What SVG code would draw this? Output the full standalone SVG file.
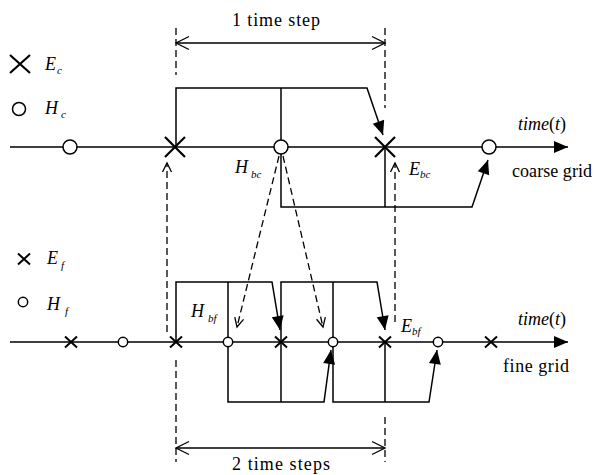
<svg xmlns="http://www.w3.org/2000/svg" width="594" height="475" viewBox="0 0 594 475">
<defs>
<style>
.ln{stroke:#000;stroke-width:1.5;fill:none}
.ds{stroke:#000;stroke-width:1.3;fill:none;stroke-dasharray:7 4}
.cx{stroke:#000;stroke-width:2;fill:none}
.cb{stroke:#000;stroke-width:2.2;fill:none}
.ci{stroke:#000;stroke-width:1.5;fill:#fff}
text{font-family:'Liberation Serif','Times New Roman','DejaVu Serif',serif;font-size:18px;fill:#000}
.i{font-style:italic}
.s{font-size:11px}
</style>
<marker id="fa" markerUnits="userSpaceOnUse" markerWidth="16" markerHeight="14" refX="14" refY="6" orient="auto" overflow="visible">
<path d="M0,0 L14,6 L0,12 z" fill="#000" stroke="none"/>
</marker>
<marker id="oa" markerUnits="userSpaceOnUse" markerWidth="16" markerHeight="16" refX="13" refY="6.5" orient="auto-start-reverse" overflow="visible">
<path d="M0,0 L13,6.5 L0,13" fill="none" stroke="#000" stroke-width="1.3"/>
</marker>
<marker id="oas" markerUnits="userSpaceOnUse" markerWidth="12" markerHeight="12" refX="9" refY="4.5" orient="auto" overflow="visible">
<path d="M0,0 L9,4.5 L0,9" fill="none" stroke="#000" stroke-width="1.3"/>
</marker>
</defs>
<rect width="594" height="475" fill="#fff"/>

<g id="legend">
<path class="cb" d="M10,55 L30,73 M30,55 L10,73"/>
<text class="i" x="45" y="70">E<tspan class="s" dx="1" dy="4">c</tspan></text>
<circle class="ci" cx="19" cy="109" r="6.5"/>
<text class="i" x="45" y="114">H<tspan class="s" dx="3" dy="4">c</tspan></text>
<path class="cx" d="M18,253.5 L30,264.5 M30,253.5 L18,264.5"/>
<text class="i" x="47" y="264">E<tspan class="s" dx="3" dy="5">f</tspan></text>
<circle class="ci" cx="23" cy="302" r="4.7"/>
<text class="i" x="47" y="310">H<tspan class="s" dx="5" dy="5">f</tspan></text>
</g>

<g id="connectors">
<line class="ln" x1="10" y1="147" x2="568" y2="147" marker-end="url(#fa)"/>
<line class="ln" x1="10" y1="342" x2="568" y2="342" marker-end="url(#fa)"/>

<line class="ds" x1="176" y1="28" x2="176" y2="75"/>
<line class="ds" x1="385" y1="28" x2="385" y2="108"/>
<line class="ln" x1="176" y1="43" x2="385" y2="43" marker-start="url(#oa)" marker-end="url(#oa)" style="stroke-width:1.3"/>

<polyline class="ln" points="176,147 176,88 367,88 383,135" marker-end="url(#fa)"/>
<line class="ln" x1="281" y1="88" x2="281" y2="140"/>
<polyline class="ln" points="281,154 281,207 472,207 488,160" marker-end="url(#fa)"/>
<line class="ln" x1="385" y1="147" x2="385" y2="207"/>

<line class="ds" x1="167" y1="332" x2="167" y2="163" marker-end="url(#oas)"/>
<line class="ds" x1="395" y1="322" x2="395" y2="163" marker-end="url(#oas)"/>
<line class="ds" x1="279" y1="156" x2="237" y2="327" marker-end="url(#oas)"/>
<line class="ds" x1="283" y1="156" x2="323" y2="327" marker-end="url(#oas)"/>

<polyline class="ln" points="176,342 176,282 272,282 280,330" marker-end="url(#fa)"/>
<line class="ln" x1="228" y1="282" x2="228" y2="337"/>
<polyline class="ln" points="281,342 281,282 377,282 385,330" marker-end="url(#fa)"/>
<line class="ln" x1="333" y1="282" x2="333" y2="337"/>
<polyline class="ln" points="228,347 228,402 324,402 331,350" marker-end="url(#fa)"/>
<line class="ln" x1="281" y1="342" x2="281" y2="402"/>
<polyline class="ln" points="333,347 333,402 429,402 437,350" marker-end="url(#fa)"/>
<line class="ln" x1="385" y1="342" x2="385" y2="402"/>

<line class="ds" x1="176" y1="360" x2="176" y2="462"/>
<line class="ds" x1="385" y1="417" x2="385" y2="462"/>
<line class="ln" x1="176" y1="448" x2="385" y2="448" marker-start="url(#oa)" marker-end="url(#oa)" style="stroke-width:1.3"/>
</g>

<g id="coarse-nodes">
<circle class="ci" cx="70" cy="147" r="7"/>
<path class="cb" d="M165,137 L185,157 M185,137 L165,157"/>
<circle class="ci" cx="281" cy="147" r="7"/>
<path class="cb" d="M375,137 L395,157 M395,137 L375,157"/>
<circle class="ci" cx="489" cy="147" r="7"/>
</g>

<g id="fine-nodes">
<path class="cx" d="M65,336.5 L77,347.5 M77,336.5 L65,347.5"/>
<circle class="ci" cx="123" cy="342" r="4.7"/>
<path class="cx" d="M170,336.5 L182,347.5 M182,336.5 L170,347.5"/>
<circle class="ci" cx="228" cy="342" r="4.7"/>
<path class="cx" d="M275,336.5 L287,347.5 M287,336.5 L275,347.5"/>
<circle class="ci" cx="333" cy="342" r="4.7"/>
<path class="cx" d="M379,336.5 L391,347.5 M391,336.5 L379,347.5"/>
<circle class="ci" cx="438" cy="342" r="4.7"/>
<path class="cx" d="M485,336.5 L497,347.5 M497,336.5 L485,347.5"/>
</g>

<g id="labels">
<text x="232" y="26" textLength="88" lengthAdjust="spacing">1 time step</text>
<text x="232" y="470" textLength="98" lengthAdjust="spacing">2 time steps</text>
<text class="i" x="235" y="173">H<tspan class="s" dx="3" dy="5">bc</tspan></text>
<text class="i" x="409" y="175">E<tspan class="s" dx="0" dy="3">bc</tspan></text>
<text class="i" x="191" y="317">H<tspan class="s" dx="4" dy="5">bf</tspan></text>
<text class="i" x="401" y="332">E<tspan class="s" dx="0" dy="3">bf</tspan></text>
<text x="566" y="130" text-anchor="end"><tspan class="i">time</tspan>(<tspan class="i">t</tspan>)</text>
<text x="512" y="177" textLength="80" lengthAdjust="spacing">coarse grid</text>
<text x="566" y="325" text-anchor="end"><tspan class="i">time</tspan>(<tspan class="i">t</tspan>)</text>
<text x="503" y="372" textLength="66" lengthAdjust="spacing">fine grid</text>
</g>
</svg>
